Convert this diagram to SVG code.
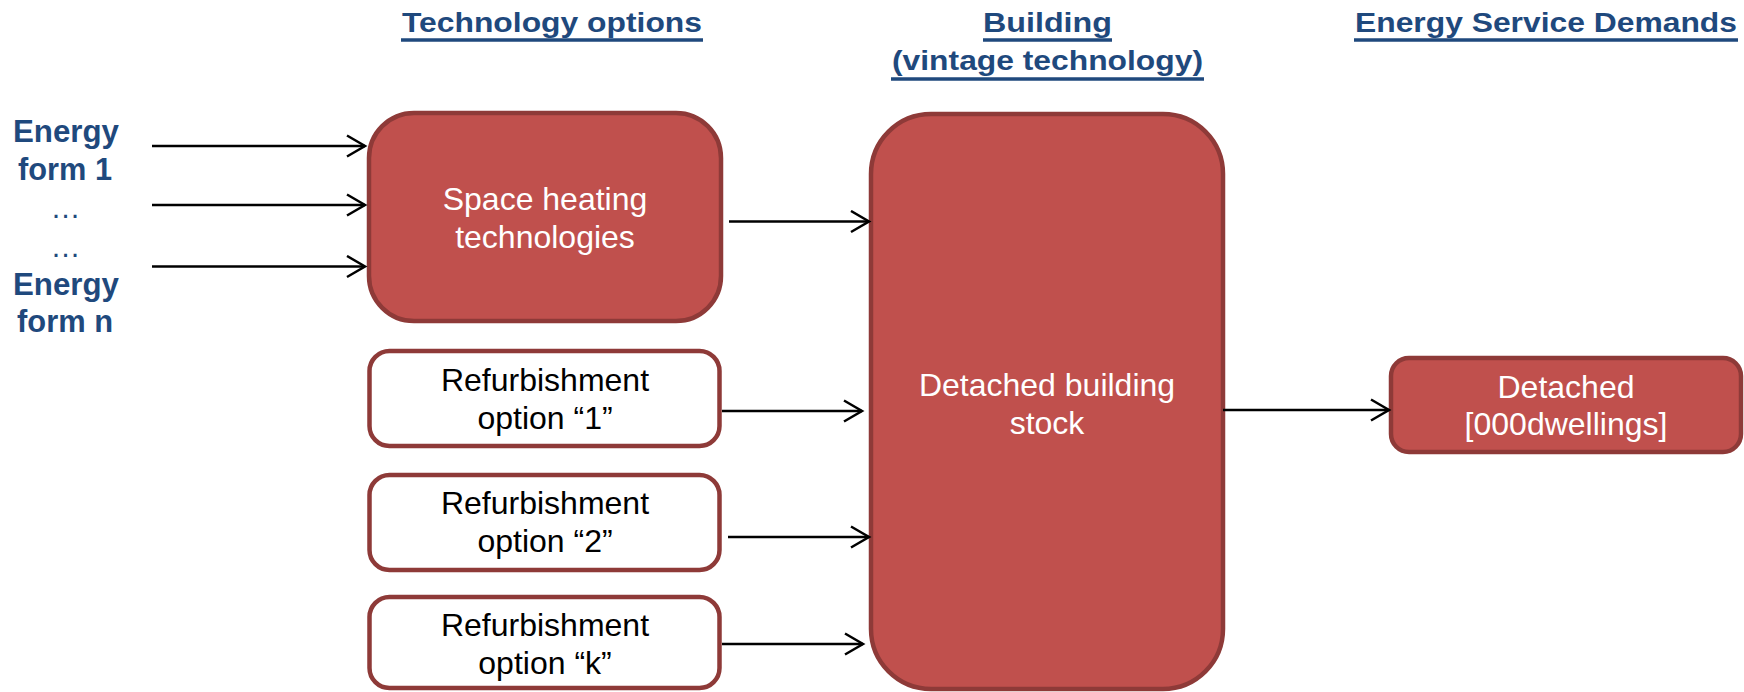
<svg xmlns="http://www.w3.org/2000/svg" width="1744" height="692" viewBox="0 0 1744 692">
<style>
.title{font-family:"Liberation Sans",Arial,sans-serif;font-weight:bold;font-size:27.5px;fill:#1F497D;text-anchor:middle}
.lbl{font-family:"Liberation Sans",Arial,sans-serif;font-weight:bold;font-size:31px;fill:#1F497D;text-anchor:middle}
.dots{font-family:"Liberation Sans",Arial,sans-serif;font-size:31px;fill:#1F497D;text-anchor:middle}
.ul{stroke:#1F497D;stroke-width:3.5}
.red{fill:#C0504D;stroke:#8E3A38;stroke-width:4.5}
.white{fill:#FFFFFF;stroke:#8E3A38;stroke-width:4.5}
.tw{font-family:"Liberation Sans",Arial,sans-serif;font-size:32px;fill:#FFFFFF;text-anchor:middle}
.tb{font-family:"Liberation Sans",Arial,sans-serif;font-size:32px;fill:#000000;text-anchor:middle}
.conn{stroke:#000000;stroke-width:2.5;fill:none;marker-end:url(#arr)}
</style>
<defs>
<marker id="arr" markerUnits="userSpaceOnUse" markerWidth="24" markerHeight="26" refX="19" refY="12" orient="auto">
<path d="M1,1.5 L19,12 L1,22.5" fill="none" stroke="#000000" stroke-width="2.5"/>
</marker>
</defs>
<rect width="1744" height="692" fill="#FFFFFF"/>
<g id="titles">
<text class="title" x="552" y="31.5" textLength="300" lengthAdjust="spacingAndGlyphs">Technology options</text>
<line class="ul" x1="401" y1="40" x2="703" y2="40"/>
<text class="title" x="1047.5" y="31.5" textLength="129" lengthAdjust="spacingAndGlyphs">Building</text>
<line class="ul" x1="983" y1="40" x2="1112" y2="40"/>
<text class="title" x="1047.5" y="69.5" textLength="311" lengthAdjust="spacingAndGlyphs">(vintage technology)</text>
<line class="ul" x1="891" y1="79" x2="1204" y2="79"/>
<text class="title" x="1546" y="31.5" textLength="382" lengthAdjust="spacingAndGlyphs">Energy Service Demands</text>
<line class="ul" x1="1354" y1="40" x2="1738" y2="40"/>
</g>
<g id="energy-forms">
<text class="lbl" x="66" y="142" textLength="106" lengthAdjust="spacingAndGlyphs">Energy</text>
<text class="lbl" x="65" y="180" textLength="94" lengthAdjust="spacingAndGlyphs">form 1</text>
<text class="dots" x="65.5" y="218" textLength="30" lengthAdjust="spacingAndGlyphs">…</text>
<text class="dots" x="65.5" y="257" textLength="30" lengthAdjust="spacingAndGlyphs">…</text>
<text class="lbl" x="66" y="295" textLength="106" lengthAdjust="spacingAndGlyphs">Energy</text>
<text class="lbl" x="65" y="332" textLength="96" lengthAdjust="spacingAndGlyphs">form n</text>
</g>
<g id="space-heating">
<rect class="red" x="369" y="113" width="352" height="208" rx="45" ry="45"/>
<text class="tw" x="545" y="210">Space heating</text>
<text class="tw" x="545" y="248">technologies</text>
</g>
<g id="refurb-1">
<rect class="white" x="369.5" y="351" width="350" height="95" rx="20" ry="20"/>
<text class="tb" x="545" y="391">Refurbishment</text>
<text class="tb" x="545" y="429">option “1”</text>
</g>
<g id="refurb-2">
<rect class="white" x="369.5" y="475" width="350" height="95" rx="20" ry="20"/>
<text class="tb" x="545" y="514">Refurbishment</text>
<text class="tb" x="545" y="552">option “2”</text>
</g>
<g id="refurb-k">
<rect class="white" x="369.5" y="597" width="350" height="91" rx="20" ry="20"/>
<text class="tb" x="545" y="636">Refurbishment</text>
<text class="tb" x="545" y="674">option “k”</text>
</g>
<g id="building">
<rect class="red" x="871" y="114" width="352" height="575" rx="60" ry="60"/>
<text class="tw" x="1047" y="396">Detached building</text>
<text class="tw" x="1047" y="434">stock</text>
</g>
<g id="detached">
<rect class="red" x="1391" y="358" width="350" height="94" rx="18" ry="18"/>
<text class="tw" x="1566" y="398">Detached</text>
<text class="tw" x="1566" y="435">[000dwellings]</text>
</g>
<g id="connectors">
<line class="conn" x1="152" y1="146" x2="365" y2="146"/>
<line class="conn" x1="152" y1="205" x2="365" y2="205"/>
<line class="conn" x1="152" y1="266.5" x2="365" y2="266.5"/>
<line class="conn" x1="729" y1="221.5" x2="869" y2="221.5"/>
<line class="conn" x1="722" y1="411" x2="862" y2="411"/>
<line class="conn" x1="728" y1="537" x2="869" y2="537"/>
<line class="conn" x1="722" y1="644" x2="863" y2="644"/>
<line class="conn" x1="1223" y1="410" x2="1389" y2="410"/>
</g>
</svg>
